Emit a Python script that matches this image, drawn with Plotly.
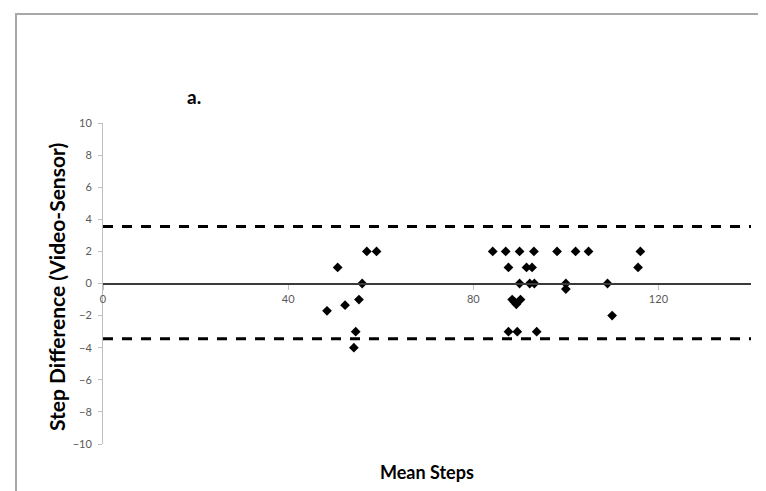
import plotly.graph_objects as go

# Bland-Altman data
mean_steps = [48.4, 50.7, 52.3, 55.3, 56.0, 54.6, 54.2, 57.0, 59.1,
              84.2, 87.0, 90.0, 93.1, 98.1, 102.1, 104.9, 116.1,
              87.6, 91.5, 92.7, 115.6,
              90.0, 92.2, 93.2, 100.0, 109.0,
              100.0,
              88.4, 90.2, 89.3, 88.9,
              110.0,
              87.6, 89.5, 93.7]
step_diff = [-1.7, 1.0, -1.35, -1.0, 0.0, -3.0, -4.0, 2.0, 2.0,
             2.0, 2.0, 2.0, 2.0, 2.0, 2.0, 2.0, 2.0,
             1.0, 1.0, 1.0, 1.0,
             0.0, 0.0, 0.0, 0.0, 0.0,
             -0.35,
             -1.0, -1.0, -1.3, -1.15,
             -2.0,
             -3.0, -3.0, -3.0]
limit_x = [0, 140]
upper_limit = [3.55, 3.55]
lower_limit = [-3.45, -3.45]
x_ticks = [0, 40, 80, 120]
y_ticks = [-10, -8, -6, -4, -2, 0, 2, 4, 6, 8, 10]

FONT = "Lato"
L, R, T, B = 95, 23, 115, 55
W, H = 766, 491
PW, PH = W - L - R, H - T - B


def px(xp):
    return (xp - L) / PW


def py(yp):
    return (H - B - yp) / PH


fig = go.Figure()
for lim in (upper_limit, lower_limit):
    fig.add_trace(go.Scatter(x=limit_x, y=lim, mode="lines",
                             line=dict(color="black", width=3, dash="10px,9px"),
                             hoverinfo="skip", showlegend=False))
fig.add_trace(go.Scatter(x=mean_steps, y=step_diff, mode="markers",
                         marker=dict(symbol="diamond", size=7.5, color="black"),
                         showlegend=False))

fig.update_layout(
    width=W, height=H,
    margin=dict(l=L, r=R, t=T, b=B),
    paper_bgcolor="white", plot_bgcolor="white",
    font=dict(family=FONT, color="#595959", size=11),
    xaxis=dict(range=[0, 140], tickvals=x_ticks, showgrid=False, zeroline=False,
               showline=True, linecolor="#3a3a3a", linewidth=2,
               anchor="free", position=0.5,
               ticks="outside", ticklen=5, tickcolor="#bfbfbf",
               tickfont=dict(size=11, color="#595959")),
    yaxis=dict(range=[-10, 10], tickvals=y_ticks, showgrid=False, zeroline=False,
               showline=True, linecolor="#bfbfbf", linewidth=1,
               ticks="outside", ticklen=4, tickcolor="#bfbfbf",
               ticklabelstandoff=4,
               tickfont=dict(size=11, color="#595959")),
    shapes=[
        dict(type="line", xref="paper", yref="paper",
             x0=px(7), x1=px(W + 5), y0=py(6), y1=py(6),
             line=dict(color="#a8a8a8", width=2)),
        dict(type="line", xref="paper", yref="paper",
             x0=px(8), x1=px(8), y0=py(6), y1=py(H + 5),
             line=dict(color="#a8a8a8", width=2)),
        dict(type="line", xref="paper", yref="paper",
             x0=px(8), x1=px(W + 5), y0=py(488), y1=py(488),
             line=dict(color="#ececec", width=1)),
    ],
    annotations=[
        dict(text="<b>a.</b>", xref="paper", yref="paper",
             x=px(186), y=py(88), xanchor="center", yanchor="middle",
             showarrow=False, font=dict(size=19, color="black", family=FONT)),
        dict(text="<b>Mean Steps</b>", xref="paper", yref="paper",
             x=px(419), y=py(464), xanchor="center", yanchor="middle",
             showarrow=False, font=dict(size=18, color="black", family=FONT)),
        dict(text="<b>Step Difference (Video-Sensor)</b>", xref="paper", yref="paper",
             x=px(48), y=py(279), xanchor="center", yanchor="middle", textangle=-90,
             showarrow=False, font=dict(size=21, color="black", family=FONT)),
    ],
)
fig.write_html("out.html")
